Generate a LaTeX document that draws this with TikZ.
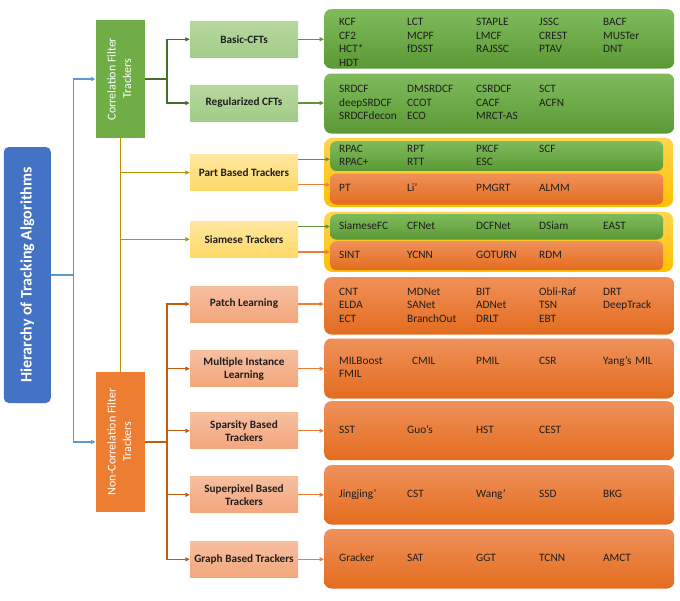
\documentclass[tikz,border=0pt]{standalone}
\usepackage{fontspec}
\setmainfont{Carlito}
\usetikzlibrary{arrows.meta,calc}
\definecolor{rootblue}{HTML}{4472C4}
\definecolor{linkblue}{HTML}{5B9BD5}
\definecolor{cfgreen}{HTML}{70AD47}
\definecolor{darkgreen}{HTML}{466F2B}
\definecolor{ncforange}{HTML}{ED7D31}
\definecolor{darkorange}{HTML}{C55A11}
\definecolor{goldline}{HTML}{BF9000}
\definecolor{gold}{HTML}{FFC000}
\definecolor{goldtop}{HTML}{FFD54F}
\definecolor{gtop}{HTML}{7FBB5B}
\definecolor{gbot}{HTML}{5B9935}
\definecolor{otop}{HTML}{F0915A}
\definecolor{obot}{HTML}{E36C1E}
\definecolor{mgtop}{HTML}{B6D89E}
\definecolor{mgbot}{HTML}{A2CC86}
\definecolor{mytop}{HTML}{FFE7A0}
\definecolor{mybot}{HTML}{FFD966}
\definecolor{motop}{HTML}{F7BFA0}
\definecolor{mobot}{HTML}{F3A67C}
\definecolor{txt}{HTML}{1E1E1E}
\setlength{\tabcolsep}{0pt}
\newcommand{\trklist}[1]{\begin{tabular}{p{68pt}p{69pt}p{63pt}p{64pt}l}#1\end{tabular}}

\begin{document}
\begin{tikzpicture}[x=1pt, y=-1pt,
  tip/.style={-{Triangle[length=4.5pt,width=4pt]}},
  catbox/.style={minimum width=49, inner sep=2pt, text=white, font=\fontsize{12}{15.5}\selectfont},
  midbox/.style={minimum width=108, minimum height=36, inner sep=2pt, align=center,
    text=txt, font=\fontsize{11.2}{13.3}\selectfont\bfseries},
  lst/.style={anchor=north west, rounded corners=7pt, inner xsep=15pt, inner ysep=0pt,
    text width=320pt, text=txt, font=\fontsize{11.3}{13.5}\selectfont},
  sublst/.style={lst, rounded corners=6pt, inner xsep=9pt, text width=315pt},
  glst/.style={top color=gtop, bottom color=gbot},
  olst/.style={top color=otop, bottom color=obot}]

  \path[use as bounding box, fill=white] (0,0) rectangle (680,600);

  % Root and the two families
  \node[fill=rootblue, rounded corners=5pt, minimum width=47, minimum height=256, inner sep=0pt,
    text=white, font=\fontsize{16}{18}\selectfont\bfseries] (root) at (27.3,275)
    {\rotatebox{90}{Hierarchy of Tracking Algorithms}};
  \node[catbox, fill=cfgreen, minimum height=118] (cf) at (120.2,79)
    {\rotatebox{90}{\begin{tabular}{c}Correlation Filter\\Trackers\end{tabular}}};
  \node[catbox, fill=ncforange, minimum height=140] (ncf) at (120.2,442)
    {\rotatebox{90}{\begin{tabular}{c}Non-Correlation Filter\\Trackers\end{tabular}}};

  % Middle boxes
  \node[midbox, top color=mgtop, bottom color=mgbot] (basic) at (244,39.3) {Basic-CFTs};
  \node[midbox, top color=mgtop, bottom color=mgbot] (reg) at (244,103) {Regularized CFTs};
  \node[midbox, top color=mytop, bottom color=mybot] (part) at (244,172.5) {Part Based Trackers};
  \node[midbox, top color=mytop, bottom color=mybot] (siam) at (244,239.3) {Siamese Trackers};
  \node[midbox, top color=motop, bottom color=mobot] (patch) at (244,304) {Patch Learning};
  \node[midbox, top color=motop, bottom color=mobot] (mil) at (244,368.7) {Multiple Instance\\Learning};
  \node[midbox, top color=motop, bottom color=mobot] (spars) at (244,430.8) {Sparsity Based\\Trackers};
  \node[midbox, top color=motop, bottom color=mobot] (spix) at (244,494.8) {Superpixel Based\\Trackers};
  \node[midbox, top color=motop, bottom color=mobot] (graph) at (244,559.3) {Graph Based Trackers};

  % Tracker lists
  \node[lst, glst, minimum height=59.3] (basiclist) at (324,9)
    {\raisebox{0pt}[\height][\dimexpr\depth-9pt]{\trklist{KCF & LCT & STAPLE & JSSC & BACF\\
      CF2 & MCPF & LMCF & CREST & MUSTer\\ HCT* & fDSST & RAJSSC & PTAV & DNT\\ HDT}}};
  \node[lst, glst, minimum height=60] (reglist) at (324,73.3)
    {\trklist{SRDCF & DMSRDCF & CSRDCF & SCT\\ deepSRDCF & CCOT & CACF & ACFN\\
      SRDCFdecon & ECO & MRCT-AS}};

  \node[anchor=north west, rounded corners=8pt, top color=goldtop, bottom color=gold,
    minimum width=349, minimum height=69] (partgrp) at (324,137.7) {};
  \node[sublst, glst, minimum height=29.7] (partg) at (330,141)
    {\trklist{RPAC & RPT & PKCF & SCF\\ RPAC+ & RTT & ESC}};
  \node[sublst, olst, minimum height=31] (parto) at (330,173.3)
    {\trklist{PT & Li’ & PMGRT & ALMM}};

  \node[anchor=north west, rounded corners=8pt, top color=goldtop, bottom color=gold,
    minimum width=349, minimum height=60] (siamgrp) at (324,211.7) {};
  \node[sublst, glst, minimum height=25.3] (siamg) at (330,214)
    {\trklist{SiameseFC & CFNet & DCFNet & DSiam & EAST}};
  \node[sublst, olst, minimum height=29] (siamo) at (330,241)
    {\trklist{SINT & YCNN & GOTURN & RDM}};

  \node[lst, olst, minimum height=57.3] (patchlist) at (324,277)
    {\trklist{CNT & MDNet & BIT & Obli-Raf & DRT\\ ELDA & SANet & ADNet & TSN & DeepTrack\\
      ECT & BranchOut & DRLT & EBT}};
  \node[lst, olst, minimum height=60] (millist) at (324,338.3)
    {\trklist{MILBoost & \hspace{5pt}CMIL & PMIL & CSR & Yang’s MIL\\ FMIL}};
  \node[lst, olst, minimum height=59] (sparslist) at (324,401)
    {\trklist{SST & Guo’s & HST & CEST}};
  \node[lst, olst, minimum height=59.3] (spixlist) at (324,465)
    {\trklist{Jingjing’ & CST & Wang’ & SSD & BKG}};
  \node[lst, olst, minimum height=59.3] (graphlist) at (324,529)
    {\trklist{Gracker & SAT & GGT & TCNN & AMCT}};

  % Root connectors
  \draw[linkblue, line width=1.2pt] (root.east) -- ++(22.7,0) coordinate (rj);
  \draw[linkblue, line width=1.2pt, tip] (rj) |- (cf.west);
  \draw[linkblue, line width=1.2pt, tip] (rj) |- (ncf.west);

  % Correlation filter branch
  \draw[darkgreen, line width=1.2pt] (cf.east) -- ++(22,0) coordinate (cj);
  \draw[darkgreen, line width=1.2pt, tip] (cj) |- (basic.west);
  \draw[darkgreen, line width=1.2pt, tip] (cj) |- (reg.west);

  % Hybrid branch
  \draw[goldline, line width=1.2pt] (cf.south) -- (ncf.north);
  \draw[goldline, line width=1.2pt, tip] (cf.south |- part.west) -- (part.west);
  \draw[goldline, line width=1.2pt, tip] (cf.south |- siam.west) -- (siam.west);

  % Non-correlation filter branch
  \draw[darkorange, line width=1.2pt] (ncf.east) -- ++(22,0) coordinate (nj);
  \foreach \m in {patch,mil,spars,spix,graph}
    \draw[darkorange, line width=1.2pt, tip] (nj) |- (\m.west);

  % Into the lists
  \draw[cfgreen!85!black, line width=1.2pt, tip] (basic.east) -- (basic.east -| basiclist.west);
  \draw[cfgreen!85!black, line width=1.2pt, tip] (reg.east) -- (reg.east -| reglist.west);
  \draw[cfgreen!85!black, line width=1.2pt, tip] ([yshift=-5pt]part.north east)
    -- ([yshift=-5pt]part.north east -| partg.west);
  \draw[ncforange, line width=1.2pt, tip] ([yshift=6pt]part.south east)
    -- ([yshift=6pt]part.south east -| parto.west);
  \draw[cfgreen!85!black, line width=1.2pt, tip] ([yshift=-5.4pt]siam.north east)
    -- ([yshift=-5.4pt]siam.north east -| siamg.west);
  \draw[ncforange, line width=1.2pt, tip] ([yshift=5.6pt]siam.south east)
    -- ([yshift=5.6pt]siam.south east -| siamo.west);
  \draw[ncforange, line width=1.2pt, tip] (patch.east) -- (patch.east -| patchlist.west);
  \draw[ncforange, line width=1.2pt, tip] (mil.east) -- (mil.east -| millist.west);
  \draw[ncforange, line width=1.2pt, tip] (spars.east) -- (spars.east -| sparslist.west);
  \draw[ncforange, line width=1.2pt, tip] (spix.east) -- (spix.east -| spixlist.west);
  \draw[ncforange, line width=1.2pt, tip] (graph.east) -- (graph.east -| graphlist.west);
\end{tikzpicture}
\end{document}
